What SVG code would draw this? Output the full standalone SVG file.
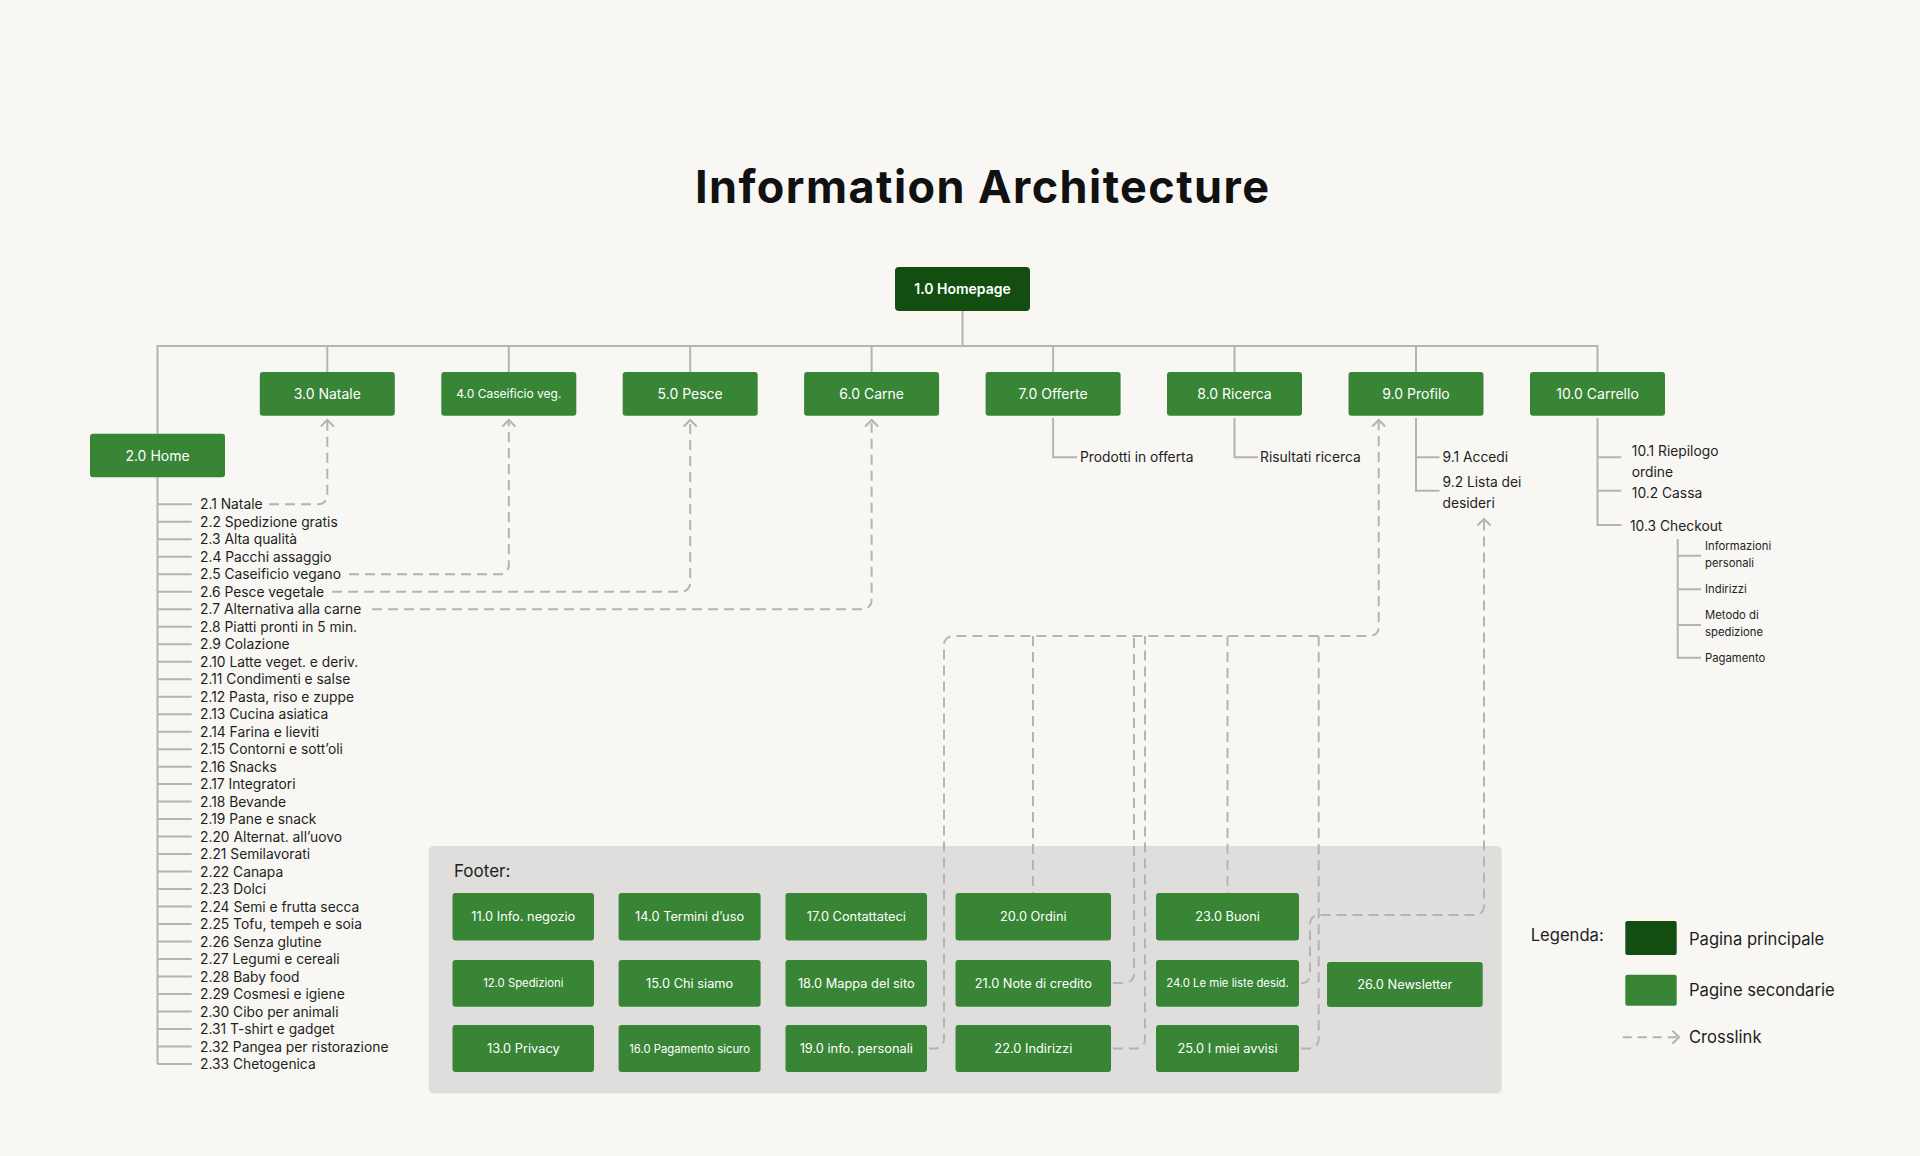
<svg xmlns="http://www.w3.org/2000/svg" width="1920" height="1156" viewBox="0 0 1920 1156">
<defs>
<style>
.f{font-family:Inter,"Liberation Sans",sans-serif}
.box{fill:#378535}
.main{fill:#134e10}
.lbl{font-family:Inter,"Liberation Sans",sans-serif;fill:#ffffff;text-anchor:middle;font-size:14px}
.sm{font-size:12px}
.fl{font-size:12.8px}
.fs{font-size:11.3px}
.t{font-family:Inter,"Liberation Sans",sans-serif;font-size:13.8px;fill:#1e1e1e}
.tx{font-family:Inter,"Liberation Sans",sans-serif;font-size:11.3px;fill:#1e1e1e}
.ln{stroke:#b4b4b4;stroke-width:2;fill:none}
.dash{stroke:#b4b4b4;stroke-width:2;fill:none;stroke-dasharray:10 6}
</style>
<marker id="arr" viewBox="-8 -8 16 16" markerWidth="16" markerHeight="16" refX="0" refY="0" orient="auto" markerUnits="userSpaceOnUse">
<path d="M-6.5,-6.5 L0,0 L-6.5,6.5" fill="none" stroke="#b4b4b4" stroke-width="2" stroke-linejoin="miter"/>
</marker>
</defs>
<rect x="0" y="0" width="1920" height="1156" fill="#f8f7f4"/>
<text class="f" x="982" y="203" font-size="45" font-weight="700" fill="#111111" text-anchor="middle" textLength="574" lengthAdjust="spacing">Information Architecture</text>

<g id="footer">
<rect x="428.6" y="846" width="1073" height="247.5" rx="5" fill="#dfdedc"/>
<text class="f" x="454" y="877" font-size="17" fill="#222222">Footer:</text>
</g>

<g id="connectors">
<path class="ln" d="M962.5 311 V346"/>
<path class="ln" d="M157.5 433.7 V346 H1597.5 V372"/>
<path class="ln" d="M327.3 346 V372 M508.8 346 V372 M690.2 346 V372 M871.6 346 V372 M1053.1 346 V372 M1234.5 346 V372 M1416 346 V372"/>
<path class="ln" d="M157.5 477.3 V1064"/>
<path class="ln" d="M157.5 504.3 H191.7 M157.5 521.8 H191.7 M157.5 539.3 H191.7 M157.5 556.8 H191.7 M157.5 574.3 H191.7 M157.5 591.8 H191.7 M157.5 609.2 H191.7 M157.5 626.7 H191.7 M157.5 644.2 H191.7 M157.5 661.7 H191.7 M157.5 679.2 H191.7 M157.5 696.7 H191.7 M157.5 714.2 H191.7 M157.5 731.7 H191.7 M157.5 749.2 H191.7 M157.5 766.7 H191.7 M157.5 784.1 H191.7 M157.5 801.6 H191.7 M157.5 819.1 H191.7 M157.5 836.6 H191.7 M157.5 854.1 H191.7 M157.5 871.6 H191.7 M157.5 889.1 H191.7 M157.5 906.6 H191.7 M157.5 924.1 H191.7 M157.5 941.6 H191.7 M157.5 959 H191.7 M157.5 976.5 H191.7 M157.5 994 H191.7 M157.5 1011.5 H191.7 M157.5 1029 H191.7 M157.5 1046.5 H191.7 M157.5 1064 H191.7"/>
<path class="ln" d="M1053.1 418 V457.3 H1077"/>
<path class="ln" d="M1234.5 418 V457.3 H1258"/>
<path class="ln" d="M1416 418 V490.7 H1439.5 M1416 457.3 H1439.5"/>
<path class="ln" d="M1597.5 418 V525 H1621.4 M1597.5 457.3 H1621.4 M1597.5 490.7 H1621.4"/>
<path class="ln" d="M1677.7 539 V657.7 H1701 M1677.7 555.7 H1701 M1677.7 589.3 H1701 M1677.7 625 H1701"/>

<path class="dash" marker-end="url(#arr)" d="M269 504.3 H318.3 A9 9 0 0 0 327.3 495.3 V420"/>
<path class="dash" marker-end="url(#arr)" d="M349 574.3 H499.8 A9 9 0 0 0 508.8 565.3 V420"/>
<path class="dash" marker-end="url(#arr)" d="M332 591.8 H681.2 A9 9 0 0 0 690.2 582.8 V420"/>
<path class="dash" marker-end="url(#arr)" d="M372 609.2 H862.6 A9 9 0 0 0 871.6 600.2 V420"/>

<path class="dash" marker-end="url(#arr)" d="M929 1048.5 H935 A9 9 0 0 0 944 1039.5 V645 A9 9 0 0 1 953 636 H1369.7 A9 9 0 0 0 1378.7 627 V420"/>
<path class="dash" d="M1033 636 V893"/>
<path class="dash" d="M1113 983 H1125 A9 9 0 0 0 1134 974 V636"/>
<path class="dash" d="M1113 1048.5 H1136 A9 9 0 0 0 1145 1039.5 V636"/>
<path class="dash" d="M1227.5 636 V893"/>
<path class="dash" d="M1301 1048.5 H1309.7 A9 9 0 0 0 1318.7 1039.5 V636"/>
<path class="dash" marker-end="url(#arr)" d="M1301 983 H1302 A8 8 0 0 0 1310 975 V924 A9 9 0 0 1 1319 915 H1475 A9 9 0 0 0 1484 906 V519"/>
</g>

<g id="n1-0"><rect class="main" x="895" y="267" width="135" height="44" rx="4"/><text class="lbl" x="962.5" y="294" font-weight="600">1.0 Homepage</text></g>
<g id="n2-0"><rect class="box" x="90" y="433.7" width="135" height="43.6" rx="3"/><text class="lbl" x="157.5" y="460.5">2.0 Home</text></g>
<g id="n3-0"><rect class="box" x="259.8" y="372" width="135" height="43.7" rx="3"/><text class="lbl" x="327.3" y="399">3.0 Natale</text></g>
<g id="n4-0"><rect class="box" x="441.3" y="372" width="135" height="43.7" rx="3"/><text class="lbl sm" x="508.8" y="398.3">4.0 Caseificio veg.</text></g>
<g id="n5-0"><rect class="box" x="622.7" y="372" width="135" height="43.7" rx="3"/><text class="lbl" x="690.2" y="399">5.0 Pesce</text></g>
<g id="n6-0"><rect class="box" x="804.1" y="372" width="135" height="43.7" rx="3"/><text class="lbl" x="871.6" y="399">6.0 Carne</text></g>
<g id="n7-0"><rect class="box" x="985.6" y="372" width="135" height="43.7" rx="3"/><text class="lbl" x="1053.1" y="399">7.0 Offerte</text></g>
<g id="n8-0"><rect class="box" x="1167" y="372" width="135" height="43.7" rx="3"/><text class="lbl" x="1234.5" y="399">8.0 Ricerca</text></g>
<g id="n9-0"><rect class="box" x="1348.5" y="372" width="135" height="43.7" rx="3"/><text class="lbl" x="1416" y="399">9.0 Profilo</text></g>
<g id="n10-0"><rect class="box" x="1530" y="372" width="135" height="43.7" rx="3"/><text class="lbl" x="1597.5" y="399">10.0 Carrello</text></g>

<g id="home-children">
<text class="t" x="200" y="509.3">2.1 Natale</text>
<text class="t" x="200" y="526.8">2.2 Spedizione gratis</text>
<text class="t" x="200" y="544.3">2.3 Alta qualità</text>
<text class="t" x="200" y="561.8">2.4 Pacchi assaggio</text>
<text class="t" x="200" y="579.3">2.5 Caseificio vegano</text>
<text class="t" x="200" y="596.8">2.6 Pesce vegetale</text>
<text class="t" x="200" y="614.2">2.7 Alternativa alla carne</text>
<text class="t" x="200" y="631.7">2.8 Piatti pronti in 5 min.</text>
<text class="t" x="200" y="649.2">2.9 Colazione</text>
<text class="t" x="200" y="666.7">2.10 Latte veget. e deriv.</text>
<text class="t" x="200" y="684.2">2.11 Condimenti e salse</text>
<text class="t" x="200" y="701.7">2.12 Pasta, riso e zuppe</text>
<text class="t" x="200" y="719.2">2.13 Cucina asiatica</text>
<text class="t" x="200" y="736.7">2.14 Farina e lieviti</text>
<text class="t" x="200" y="754.2">2.15 Contorni e sott’oli</text>
<text class="t" x="200" y="771.7">2.16 Snacks</text>
<text class="t" x="200" y="789.1">2.17 Integratori</text>
<text class="t" x="200" y="806.6">2.18 Bevande</text>
<text class="t" x="200" y="824.1">2.19 Pane e snack</text>
<text class="t" x="200" y="841.6">2.20 Alternat. all’uovo</text>
<text class="t" x="200" y="859.1">2.21 Semilavorati</text>
<text class="t" x="200" y="876.6">2.22 Canapa</text>
<text class="t" x="200" y="894.1">2.23 Dolci</text>
<text class="t" x="200" y="911.6">2.24 Semi e frutta secca</text>
<text class="t" x="200" y="929.1">2.25 Tofu, tempeh e soia</text>
<text class="t" x="200" y="946.6">2.26 Senza glutine</text>
<text class="t" x="200" y="964">2.27 Legumi e cereali</text>
<text class="t" x="200" y="981.5">2.28 Baby food</text>
<text class="t" x="200" y="999">2.29 Cosmesi e igiene</text>
<text class="t" x="200" y="1016.5">2.30 Cibo per animali</text>
<text class="t" x="200" y="1034">2.31 T-shirt e gadget</text>
<text class="t" x="200" y="1051.5">2.32 Pangea per ristorazione</text>
<text class="t" x="200" y="1069">2.33 Chetogenica</text>
</g>

<g id="offerte-children"><text class="t" x="1080" y="462.3">Prodotti in offerta</text></g>
<g id="ricerca-children"><text class="t" x="1260" y="462.3">Risultati ricerca</text></g>
<g id="profilo-children">
<text class="t" x="1442.5" y="462.3">9.1 Accedi</text>
<text class="t" x="1442.5" y="487.3">9.2 Lista dei</text>
<text class="t" x="1442.5" y="508.3">desideri</text>
</g>
<g id="carrello-children">
<text class="t" x="1631.8" y="456">10.1 Riepilogo</text>
<text class="t" x="1631.8" y="476.7">ordine</text>
<text class="t" x="1631.8" y="498.3">10.2 Cassa</text>
<text class="t" x="1630" y="531">10.3 Checkout</text>
<text class="tx" x="1705" y="550">Informazioni</text>
<text class="tx" x="1705" y="566.7">personali</text>
<text class="tx" x="1705" y="593.3">Indirizzi</text>
<text class="tx" x="1705" y="619">Metodo di</text>
<text class="tx" x="1705" y="636">spedizione</text>
<text class="tx" x="1705" y="661.7">Pagamento</text>
</g>

<g id="n11-0"><rect class="box" x="452.5" y="893" width="141.5" height="47.5" rx="3"/><text class="lbl fl" x="523.3" y="921.3">11.0 Info. negozio</text></g>
<g id="n12-0"><rect class="box" x="452.5" y="960" width="141.5" height="46.7" rx="3"/><text class="lbl fs" x="523.3" y="987.4">12.0 Spedizioni</text></g>
<g id="n13-0"><rect class="box" x="452.5" y="1025" width="141.5" height="47" rx="3"/><text class="lbl fl" x="523.3" y="1053">13.0 Privacy</text></g>
<g id="n14-0"><rect class="box" x="618.6" y="893" width="142" height="47.5" rx="3"/><text class="lbl fl" x="689.6" y="921.3">14.0 Termini d’uso</text></g>
<g id="n15-0"><rect class="box" x="618.6" y="960" width="142" height="46.7" rx="3"/><text class="lbl fl" x="689.6" y="987.8">15.0 Chi siamo</text></g>
<g id="n16-0"><rect class="box" x="618.6" y="1025" width="142" height="47" rx="3"/><text class="lbl fs" x="689.6" y="1052.5">16.0 Pagamento sicuro</text></g>
<g id="n17-0"><rect class="box" x="785.5" y="893" width="141.5" height="47.5" rx="3"/><text class="lbl fl" x="856.3" y="921.3">17.0 Contattateci</text></g>
<g id="n18-0"><rect class="box" x="785.5" y="960" width="141.5" height="46.7" rx="3"/><text class="lbl fl" x="856.3" y="987.8">18.0 Mappa del sito</text></g>
<g id="n19-0"><rect class="box" x="785.5" y="1025" width="141.5" height="47" rx="3"/><text class="lbl fl" x="856.3" y="1053">19.0 info. personali</text></g>
<g id="n20-0"><rect class="box" x="955.5" y="893" width="155.5" height="47.5" rx="3"/><text class="lbl fl" x="1033.3" y="921.3">20.0 Ordini</text></g>
<g id="n21-0"><rect class="box" x="955.5" y="960" width="155.5" height="46.7" rx="3"/><text class="lbl fl" x="1033.3" y="987.8">21.0 Note di credito</text></g>
<g id="n22-0"><rect class="box" x="955.5" y="1025" width="155.5" height="47" rx="3"/><text class="lbl fl" x="1033.3" y="1053">22.0 Indirizzi</text></g>
<g id="n23-0"><rect class="box" x="1156" y="893" width="143" height="47.5" rx="3"/><text class="lbl fl" x="1227.5" y="921.3">23.0 Buoni</text></g>
<g id="n24-0"><rect class="box" x="1156" y="960" width="143" height="46.7" rx="3"/><text class="lbl fs" x="1227.5" y="987.4">24.0 Le mie liste desid.</text></g>
<g id="n25-0"><rect class="box" x="1156" y="1025" width="143" height="47" rx="3"/><text class="lbl fl" x="1227.5" y="1053">25.0 I miei avvisi</text></g>
<g id="n26-0"><rect class="box" x="1327" y="962" width="155.7" height="45" rx="3"/><text class="lbl fl" x="1404.8" y="989">26.0 Newsletter</text></g>

<g id="legend">
<text class="f" x="1530.7" y="941" font-size="16.6" fill="#1e1e1e">Legenda:</text>
<rect class="main" x="1625.3" y="921" width="51.4" height="34" rx="2"/>
<text class="f" x="1689" y="945" font-size="16.6" fill="#1e1e1e">Pagina principale</text>
<rect class="box" x="1625.3" y="974.7" width="51.4" height="31" rx="2"/>
<text class="f" x="1689" y="996" font-size="16.6" fill="#1e1e1e">Pagine secondarie</text>
<path class="dash" style="stroke-dasharray:9 6" marker-end="url(#arr)" d="M1622.7 1037.3 H1679"/>
<text class="f" x="1689" y="1043" font-size="16.6" fill="#1e1e1e">Crosslink</text>
</g>
</svg>
